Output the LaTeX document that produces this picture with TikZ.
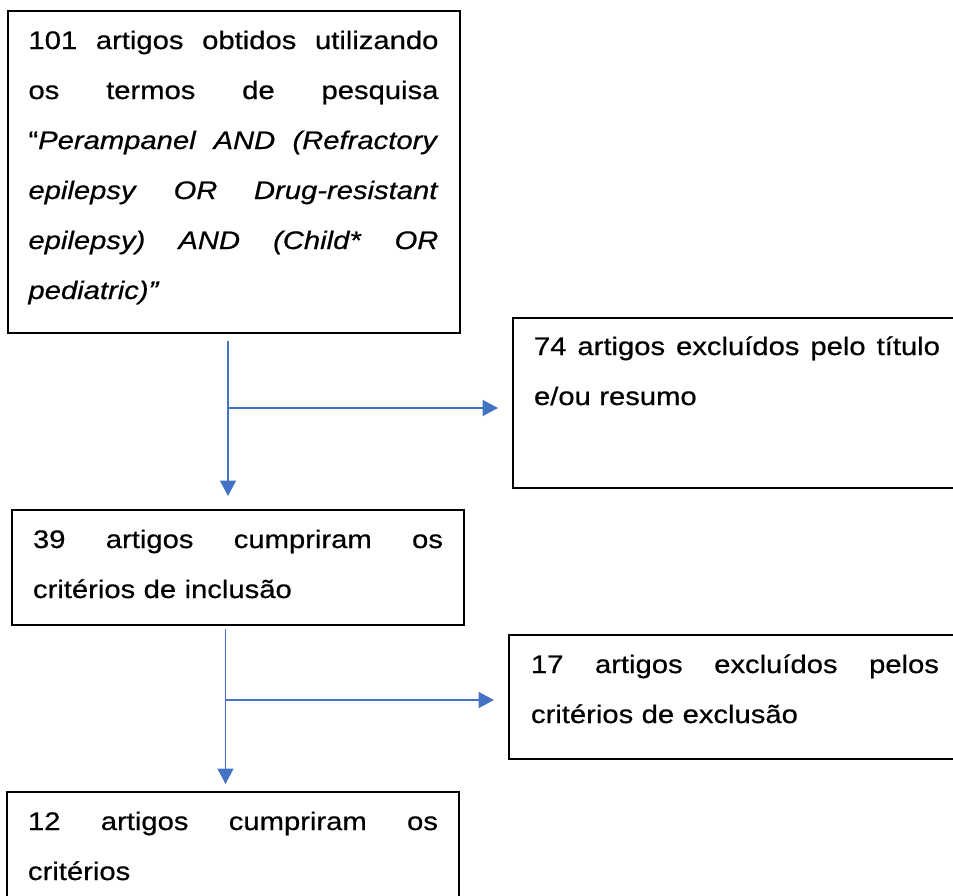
\documentclass[tikz,border=0pt]{standalone}
\usepackage{fontspec}
\setmainfont{Liberation Sans}[FakeStretch=1.15,FakeBold=0.6]
\usetikzlibrary{arrows.meta,calc}
\definecolor{flowblue}{HTML}{4472C4}
\newcommand{\jl}[1]{\hbox to\hsize{#1}}
\newcommand{\lastln}[1]{\hbox to\hsize{#1\hfil}}
\newcommand{\tp}[1]{\rule{0pt}{#1pt}}
\newcommand{\bt}[1]{\rule[-#1pt]{0pt}{#1pt}}
\begin{document}
\begin{tikzpicture}[x=1pt,y=-1pt,
  box/.style={draw=black,line width=2pt,anchor=north west,inner ysep=0pt,
    inner xsep=21pt,outer sep=0pt,text width=410pt,
    font=\fontsize{25.4}{50}\selectfont},
  arr/.style={draw=flowblue,line width=1.6pt,-{Triangle[length=15.5pt,width=16pt]}}]
\useasboundingbox (0,0) rectangle (953,895);
\node[box] (b1) at (7.5,11) {%
\jl{\tp{38}101\hfill artigos\hfill obtidos\hfill utilizando}
\jl{os\hfill termos\hfill de\hfill pesquisa}
\jl{“\textit{Perampanel}\hfill\textit{AND}\hfill\textit{(Refractory}}
\jl{\textit{epilepsy}\hfill\textit{OR}\hfill\textit{Drug-resistant}}
\jl{\textit{epilepsy)}\hfill\textit{AND}\hfill\textit{(Child*}\hfill\textit{OR}}
\lastln{\textit{pediatric)”}\bt{34}}};
\node[box,text width=406pt] (b2) at (513,318) {%
\jl{\tp{37}74\hfill artigos\hfill excluídos\hfill pelo\hfill título}
\lastln{e/ou resumo\bt{83}}};
\node[box] (b3) at (12,510) {%
\jl{\tp{38}39\hfill artigos\hfill cumpriram\hfill os}
\lastln{critérios de inclusão\bt{27}}};
\node[box,text width=408pt,inner xsep=22pt] (b4) at (509,635) {%
\jl{\tp{38}17\hfill artigos\hfill excluídos\hfill pelos}
\lastln{critérios de exclusão\bt{36}}};
\node[box] (b5) at (7,792) {%
\jl{\tp{38}12\hfill artigos\hfill cumpriram\hfill os}
\lastln{critérios\bt{30}}};
\coordinate (s1) at (228,341);
\coordinate (j1) at (228,408);
\draw[arr] (s1) -- ($(s1 |- b3.north)+(0,-14)$);
\draw[arr] (j1) -- ($(j1 -| b2.west)+(-15,0)$);
\coordinate (s2) at (225.5,629);
\coordinate (j2) at (225.5,700);
\draw[arr] (s2) -- ($(s2 |- b5.north)+(0,-8)$);
\draw[arr] (j2) -- ($(j2 -| b4.west)+(-15,0)$);
\end{tikzpicture}
\end{document}
